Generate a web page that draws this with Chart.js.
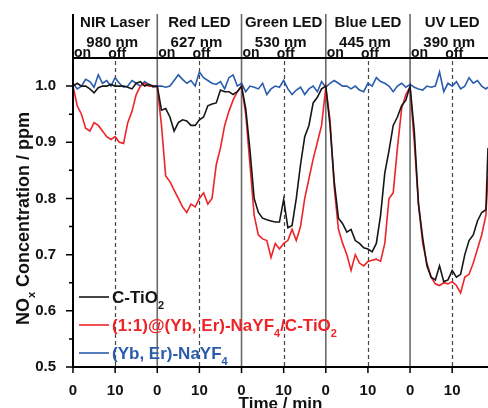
<!DOCTYPE html>
<html>
<head>
<meta charset="utf-8">
<script src="https://cdn.jsdelivr.net/npm/chart.js@4.4.1/dist/chart.umd.min.js"></script>
<style>
  html, body { margin: 0; padding: 0; background: #fff; }
  canvas { display: block; }
</style>
</head>
<body>
<canvas id="noxChart" width="488" height="408"></canvas>
<script>
// time in minutes, every light section is 20 min (10 on, 10 off)
var minutes = [0, 1, 2, 3, 4, 5, 6, 7, 8, 9, 10, 11, 12, 13, 14, 15, 16, 17, 18, 19,
    20, 21, 22, 23, 24, 25, 26, 27, 28, 29, 30, 31, 32, 33, 34, 35, 36, 37, 38, 39,
    40, 41, 42, 43, 44, 45, 46, 47, 48, 49, 50, 51, 52, 53, 54, 55, 56, 57, 58, 59,
    60, 61, 62, 63, 64, 65, 66, 67, 68, 69, 70, 71, 72, 73, 74, 75, 76, 77, 78, 79,
    80, 81, 82, 83, 84, 85, 86, 87, 88, 89, 90, 91, 92, 93, 94, 95, 96, 97, 98, 98.5];

var cTiO2 = [1.0, 1.005, 1.0, 1.0, 0.995, 0.988, 0.997, 1.0, 1.0, 1.003, 1.0, 1.0, 1.0, 0.998, 0.995, 1.005, 1.008, 1.0, 1.003, 1.0,
    1.0, 0.957, 0.96, 0.945, 0.92, 0.935, 0.94, 0.938, 0.93, 0.93, 0.94, 0.945, 0.965, 0.968, 0.97, 0.993, 0.99, 0.99, 0.985, 0.99,
    1.0, 0.96, 0.886, 0.8, 0.775, 0.765, 0.762, 0.76, 0.758, 0.758, 0.798, 0.748, 0.752, 0.8, 0.86, 0.91, 0.93, 0.97, 0.98, 0.995,
    1.0, 0.93, 0.83, 0.765, 0.755, 0.74, 0.745, 0.725, 0.72, 0.712, 0.71, 0.705, 0.72, 0.77, 0.845, 0.885, 0.93, 0.945, 0.965, 0.975,
    1.0, 0.92, 0.79, 0.73, 0.68, 0.66, 0.655, 0.68, 0.652, 0.655, 0.672, 0.66, 0.665, 0.7, 0.725, 0.735, 0.76, 0.775, 0.78, 0.89];

var ybErTiO2 = [1.0, 0.965, 0.95, 0.925, 0.92, 0.935, 0.93, 0.92, 0.91, 0.905, 0.91, 0.9, 0.898, 0.935, 0.955, 0.985, 1.0, 1.005, 1.0, 1.0,
    0.998, 0.93, 0.84, 0.83, 0.815, 0.8, 0.785, 0.775, 0.79, 0.785, 0.8, 0.81, 0.79, 0.8, 0.86, 0.89, 0.93, 0.955, 0.975, 0.99,
    1.0, 0.95, 0.86, 0.77, 0.735, 0.728, 0.725, 0.695, 0.72, 0.71, 0.72, 0.725, 0.745, 0.725, 0.75, 0.8, 0.835, 0.87, 0.9, 0.93,
    0.998, 0.94, 0.82, 0.745, 0.72, 0.7, 0.672, 0.7, 0.685, 0.68, 0.688, 0.69, 0.692, 0.688, 0.72, 0.8, 0.81, 0.89, 0.96, 0.985,
    0.998, 0.9, 0.79, 0.72, 0.685, 0.66, 0.648, 0.645, 0.65, 0.648, 0.652, 0.645, 0.632, 0.66, 0.665, 0.685, 0.71, 0.735, 0.77, 0.84];

var ybErNaYF4 = [1.005, 0.995, 1.0, 1.012, 1.008, 0.998, 1.02, 1.005, 1.01, 1.0, 1.015, 1.005, 0.998, 1.0, 1.01, 1.005, 1.0, 1.008, 1.003, 0.998,
    1.0, 1.0, 0.998, 1.0, 1.01, 1.02, 1.012, 1.005, 1.01, 1.0, 1.025, 1.015, 1.01, 1.005, 1.003, 1.008, 0.995, 1.015, 1.02, 1.0,
    1.005, 0.99, 1.0, 0.998, 0.995, 1.005, 0.985, 0.995, 1.0, 0.998, 1.01, 0.995, 0.985, 0.993, 0.998, 0.985, 0.995, 1.0, 0.99, 1.008,
    0.998, 1.005, 1.01, 1.005, 1.0, 1.0, 0.995, 1.0, 0.993, 0.99, 1.005, 1.0, 1.015, 1.008, 1.005, 1.0, 0.99, 1.0, 1.005, 0.998,
    1.003, 0.998, 0.995, 0.993, 1.0, 0.998, 1.0, 1.025, 0.99, 1.005, 1.0, 1.008, 0.995, 1.0, 1.015, 1.005, 1.01, 1.0, 0.995, 0.998];

var sectionStarts = [0, 20, 40, 60, 80];
var lightNames = ["NIR Laser", "Red LED", "Green LED", "Blue LED", "UV LED"];
var wavelengths = ["980 nm", "627 nm", "530 nm", "445 nm", "390 nm"];
var xTickValues = [0, 10, 20, 30, 40, 50, 60, 70, 80, 90];
var xTickLabels = ["0", "10", "0", "10", "0", "10", "0", "10", "0", "10"];
var yTickValues = [0.5, 0.6, 0.7, 0.8, 0.9, 1.0];
var yMinorTicks = [0.55, 0.65, 0.75, 0.85, 0.95];

var FONT = "'Liberation Sans', Arial, sans-serif";
var BLACK = "#161616";
var RED = "#ee2429";
var BLUE = "#2a5cae";

function toPoints(values) {
    return values.map(function(v, i) { return { x: minutes[i], y: v }; });
}

// draws text pieces, subscripts are smaller and shifted down
function drawRich(ctx, parts, x, y, size, color) {
    ctx.fillStyle = color;
    ctx.textBaseline = "alphabetic";
    ctx.textAlign = "left";
    parts.forEach(function(p) {
        var sub = p[1] === "sub";
        ctx.font = "bold " + (sub ? Math.round(size * 0.62) : size) + "px " + FONT;
        ctx.fillText(p[0], x, y + (sub ? size * 0.35 : 0));
        x += ctx.measureText(p[0]).width;
    });
    return x;
}

var decorPlugin = {
    id: "decor",
    beforeDatasetsDraw: function(chart) {
        var ctx = chart.ctx, area = chart.chartArea, xs = chart.scales.x;
        ctx.save();
        // dashed lines at light off
        ctx.strokeStyle = "#444";
        ctx.lineWidth = 1.2;
        ctx.setLineDash([4, 3]);
        sectionStarts.forEach(function(s) {
            var px = Math.round(xs.getPixelForValue(s + 10)) + 0.5;
            ctx.beginPath();
            ctx.moveTo(px, area.top + 3);
            ctx.lineTo(px, area.bottom);
            ctx.stroke();
        });
        ctx.setLineDash([]);
        // section separators
        ctx.strokeStyle = "#6a6a6a";
        ctx.lineWidth = 1.6;
        sectionStarts.slice(1).forEach(function(s) {
            var px = xs.getPixelForValue(s);
            ctx.beginPath();
            ctx.moveTo(px, 14);
            ctx.lineTo(px, area.bottom);
            ctx.stroke();
        });
        ctx.restore();
    },
    afterDraw: function(chart) {
        var ctx = chart.ctx, area = chart.chartArea, xs = chart.scales.x, ys = chart.scales.y;
        ctx.save();
        // frame
        ctx.strokeStyle = "#000";
        ctx.lineWidth = 2;
        ctx.beginPath();
        ctx.moveTo(area.left, 14);
        ctx.lineTo(area.left, area.bottom);
        ctx.lineTo(area.right, area.bottom);
        ctx.moveTo(area.left, area.top);
        ctx.lineTo(area.right, area.top);
        ctx.stroke();
        // ticks
        ctx.lineWidth = 1.5;
        ctx.beginPath();
        yTickValues.forEach(function(v) {
            var py = ys.getPixelForValue(v);
            ctx.moveTo(area.left - 7, py);
            ctx.lineTo(area.left, py);
        });
        yMinorTicks.forEach(function(v) {
            var py = ys.getPixelForValue(v);
            ctx.moveTo(area.left - 4, py);
            ctx.lineTo(area.left, py);
        });
        xTickValues.forEach(function(v) {
            var px = xs.getPixelForValue(v);
            ctx.moveTo(px, area.bottom);
            ctx.lineTo(px, area.bottom + 6);
        });
        ctx.stroke();

        // header texts
        ctx.fillStyle = "#111";
        ctx.textAlign = "center";
        ctx.textBaseline = "alphabetic";
        sectionStarts.forEach(function(s, i) {
            var cx = (xs.getPixelForValue(s) + xs.getPixelForValue(s + 20)) / 2;
            ctx.font = "bold 15px " + FONT;
            ctx.fillText(lightNames[i], cx, 27);
            ctx.fillText(wavelengths[i], cx - 3, 47);
            ctx.font = "bold 14px " + FONT;
            ctx.textAlign = "left";
            ctx.fillText("on", xs.getPixelForValue(s) + 1, 57);
            ctx.textAlign = "center";
            ctx.fillText("off", xs.getPixelForValue(s + 10) + 2, 58);
        });

        // axis titles
        ctx.textAlign = "center";
        ctx.font = "bold 17px " + FONT;
        ctx.fillText("Time / min", (area.left + area.right) / 2, 409);

        ctx.save();
        ctx.translate(29, (area.top + area.bottom) / 2 + 6);
        ctx.rotate(-Math.PI / 2);
        var parts = [["NO"], ["x", "sub"], [" Concentration / ppm"]];
        var w = 0;
        parts.forEach(function(p) {
            ctx.font = "bold " + (p[1] ? 11 : 18) + "px " + FONT;
            w += ctx.measureText(p[0]).width;
        });
        drawRich(ctx, parts, -w / 2, 0, 18, "#111");
        ctx.restore();

        // legend
        var legend = [
            { color: BLACK, parts: [["C-TiO"], ["2", "sub"]] },
            { color: RED, parts: [["(1:1)@(Yb, Er)-NaYF"], ["4", "sub"], ["/C-TiO"], ["2", "sub"]] },
            { color: BLUE, parts: [["(Yb, Er)-NaYF"], ["4", "sub"]] }
        ];
        legend.forEach(function(item, i) {
            var ly = 297 + i * 28;
            ctx.strokeStyle = item.color;
            ctx.lineWidth = 1.6;
            ctx.beginPath();
            ctx.moveTo(79, ly);
            ctx.lineTo(109, ly);
            ctx.stroke();
            drawRich(ctx, item.parts, 112, ly + 6, 17, item.color);
        });
        ctx.restore();
    }
};

new Chart(document.getElementById("noxChart"), {
    type: "line",
    data: {
        datasets: [{
            label: "C-TiO2",
            data: toPoints(cTiO2),
            borderColor: BLACK,
            borderWidth: 1.6,
            pointRadius: 0,
            tension: 0
        }, {
            label: "(1:1)@(Yb, Er)-NaYF4/C-TiO2",
            data: toPoints(ybErTiO2),
            borderColor: RED,
            borderWidth: 1.6,
            pointRadius: 0,
            tension: 0
        }, {
            label: "(Yb, Er)-NaYF4",
            data: toPoints(ybErNaYF4),
            borderColor: BLUE,
            borderWidth: 1.6,
            pointRadius: 0,
            tension: 0
        }]
    },
    options: {
        responsive: false,
        animation: false,
        layout: { padding: { top: 58, right: 0, left: 0, bottom: 0 } },
        plugins: {
            legend: { display: false },
            tooltip: { enabled: false }
        },
        scales: {
            x: {
                type: "linear",
                min: 0,
                max: 98.5,
                grid: { display: false },
                border: { display: false },
                afterBuildTicks: function(scale) {
                    scale.ticks = xTickValues.map(function(v) { return { value: v }; });
                },
                afterFit: function(scale) { scale.height = 41; },
                ticks: {
                    autoSkip: false,
                    maxRotation: 0,
                    padding: 7,
                    color: "#111",
                    font: { family: FONT, size: 15, weight: "bold" },
                    callback: function(v, i) { return xTickLabels[i]; }
                }
            },
            y: {
                min: 0.5,
                max: 1.05,
                grid: { display: false },
                border: { display: false },
                afterBuildTicks: function(scale) {
                    scale.ticks = yTickValues.map(function(v) { return { value: v }; });
                },
                afterFit: function(scale) { scale.width = 73; },
                ticks: {
                    padding: 9,
                    color: "#111",
                    font: { family: FONT, size: 15, weight: "bold" },
                    callback: function(v) { return v.toFixed(1); }
                }
            }
        }
    },
    plugins: [decorPlugin]
});
</script>
</body>
</html>
